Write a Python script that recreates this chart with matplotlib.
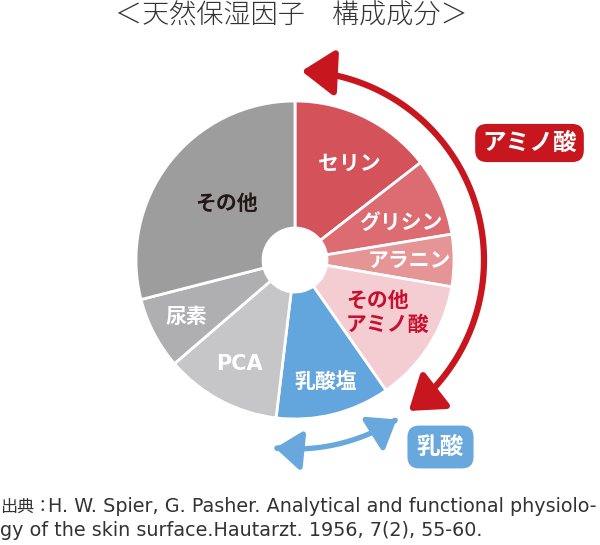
import numpy as np
import matplotlib
matplotlib.use('Agg')
import matplotlib.pyplot as plt
from matplotlib.patches import FancyArrowPatch
from matplotlib.path import Path

plt.rcParams['font.family'] = ['Noto Sans CJK JP', 'DejaVu Sans']

# composition (%), clockwise from top
labels = ['セリン', 'グリシン', 'アラニン', 'その他\nアミノ酸', '乳酸塩', 'PCA', '尿素', 'その他']
values = [14.5, 7.9, 5.3, 12.6, 11.6, 11.8, 7.3, 29.0]
colors = ['#D4535A', '#DC6C72', '#E69597', '#F3CDD1', '#63A5DD', '#C6C6C8', '#AFAFB1', '#9D9D9E']
text_colors = ['white', 'white', 'white', '#C8102E', 'white', 'white', 'white', '#231815']
label_r = [0.70, 0.71, 0.72, 0.67, 0.79, 0.74, 0.77, 0.56]
label_shift = [3, 4, 0, -3, 0, 0, 0, 2]

title = '＜天然保湿因子　構成成分＞'
source_head = '出典：'
source_line1 = 'H. W. Spier, G. Pasher. Analytical and functional physiolo-'
source_line2 = 'gy of the skin surface.Hautarzt. 1956, 7(2), 55-60.'

fig = plt.figure(figsize=(6, 5.45), dpi=100)
ax = fig.add_axes([0, 0, 1, 1])

cx, cy, R = 295, 285, 159
wedges, _ = ax.pie(values, colors=colors, startangle=90, counterclock=False,
                   center=(cx, cy), radius=R,
                   wedgeprops=dict(width=R - 32, edgecolor='white', linewidth=2))

# labels inside slices
cum = np.cumsum([0] + values[:-1])
for i, lab in enumerate(labels):
    mid = 90 - (cum[i] + values[i] / 2) * 3.6 - label_shift[i]
    t = np.deg2rad(mid)
    x = cx + R * label_r[i] * np.cos(t)
    y = cy + R * label_r[i] * np.sin(t)
    fam = ['DejaVu Sans', 'Noto Sans CJK JP'] if lab == 'PCA' else None
    ax.text(x, y, lab, ha='center', va='center', fontsize=15, fontweight='bold',
            color=text_colors[i], linespacing=1.15, multialignment='left', family=fam)


def arc_path(a0, a1, r):
    a = np.linspace(a0, a1, 80)
    th = np.deg2rad(90 - a)
    return Path(np.column_stack([cx + r * np.cos(th), cy + r * np.sin(th)]))


red = '#C8161E'
blue = '#69A8DD'
ax.add_patch(FancyArrowPatch(path=arc_path(2, 143, 189),
                             arrowstyle='<|-|>,head_length=10,head_width=7',
                             color=red, lw=4.5, mutation_scale=2))
ax.add_patch(FancyArrowPatch(path=arc_path(147.5, 186, 189),
                             arrowstyle='<|-|>,head_length=8,head_width=6',
                             color=blue, lw=3.8, mutation_scale=2))

ax.text(529.5, 402, 'アミノ酸', ha='center', va='center', fontsize=17, fontweight='bold',
        color='white', bbox=dict(boxstyle='round,pad=0.3,rounding_size=0.5', fc=red, ec='none'))
ax.text(440.5, 98, '乳酸', ha='center', va='center', fontsize=17, fontweight='bold',
        color='white', bbox=dict(boxstyle='round,pad=0.4,rounding_size=0.5', fc=blue, ec='none'))

ax.text(291, 529, title, ha='center', va='center', fontsize=19.5, fontweight='light',
        color='#333333')

# source note
ax.text(0, 38, source_head, ha='left', va='center', fontsize=12.3, color='#333333')
ax.text(48, 38, source_line1, ha='left', va='center', fontsize=13.8, color='#333333',
        family=['DejaVu Sans', 'Noto Sans CJK JP'])
ax.text(0, 14, source_line2, ha='left', va='center', fontsize=13.8, color='#333333',
        family=['DejaVu Sans', 'Noto Sans CJK JP'])

ax.set_xlim(0, 600)
ax.set_ylim(0, 545)
ax.set_aspect('equal')
ax.axis('off')

fig.savefig('out.png', dpi=100)
